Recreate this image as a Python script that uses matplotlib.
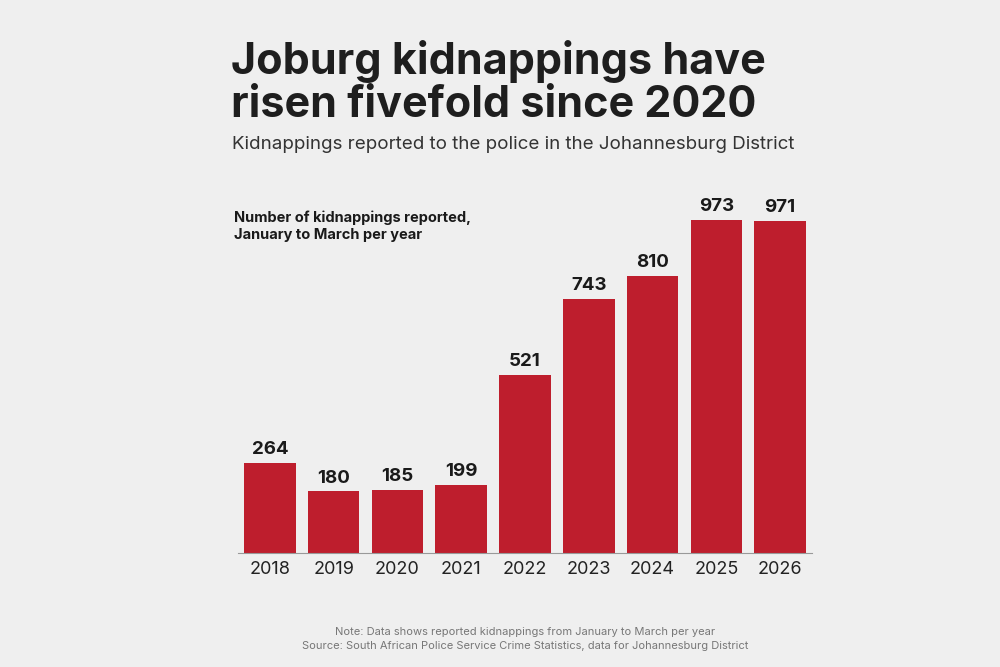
import matplotlib.pyplot as plt

# Datos
years = ["2018", "2019", "2020", "2021", "2022", "2023", "2024", "2025", "2026"]
kidnappings = [264, 180, 185, 199, 521, 743, 810, 973, 971]

plt.rcParams['font.family'] = ['Inter', 'DejaVu Sans']

fig = plt.figure(figsize=(10, 6.67), dpi=100, facecolor="#efefef")
ax = fig.add_axes([0.238, 0.171, 0.574, 0.513])
ax.set_facecolor("#efefef")

x = range(len(years))
bars = ax.bar(x, kidnappings, width=0.81, color="#be1e2d")
for xi, v in zip(x, kidnappings):
    ax.text(xi, v + 14, str(v), ha="center", va="bottom", fontsize=13.5, fontweight="bold", color="#1a1a1a")

ax.set_xlim(-0.5, 8.5)
ax.set_ylim(0, 1000)
ax.set_xticks(list(x))
ax.set_xticklabels(years, fontsize=13, color="#222222")
ax.tick_params(axis="x", length=0, pad=6)
ax.set_yticks([])
for s in ["top", "right", "left"]:
    ax.spines[s].set_visible(False)
ax.spines["bottom"].set_color("#999999")
ax.spines["bottom"].set_linewidth(0.8)

# Titulos
fig.text(0.231, 0.94, "Joburg kidnappings have\nrisen fivefold since 2020", fontsize=31, fontweight="bold",
         color="#1e1e1e", va="top", ha="left", linespacing=1.05)
fig.text(0.232, 0.784, "Kidnappings reported to the police in the Johannesburg District", fontsize=13.5,
         color="#333333", va="center", ha="left")
fig.text(0.234, 0.685, "Number of kidnappings reported,\nJanuary to March per year", fontsize=10.5,
         fontweight="bold", color="#1a1a1a", va="top", ha="left", linespacing=1.3)

# Nota
fig.text(0.525, 0.042, "Note: Data shows reported kidnappings from January to March per year\n"
         "Source: South African Police Service Crime Statistics, data for Johannesburg District",
         fontsize=8, color="#777777", ha="center", va="center", linespacing=1.4)

fig.savefig("out.png", dpi=100, facecolor=fig.get_facecolor())
